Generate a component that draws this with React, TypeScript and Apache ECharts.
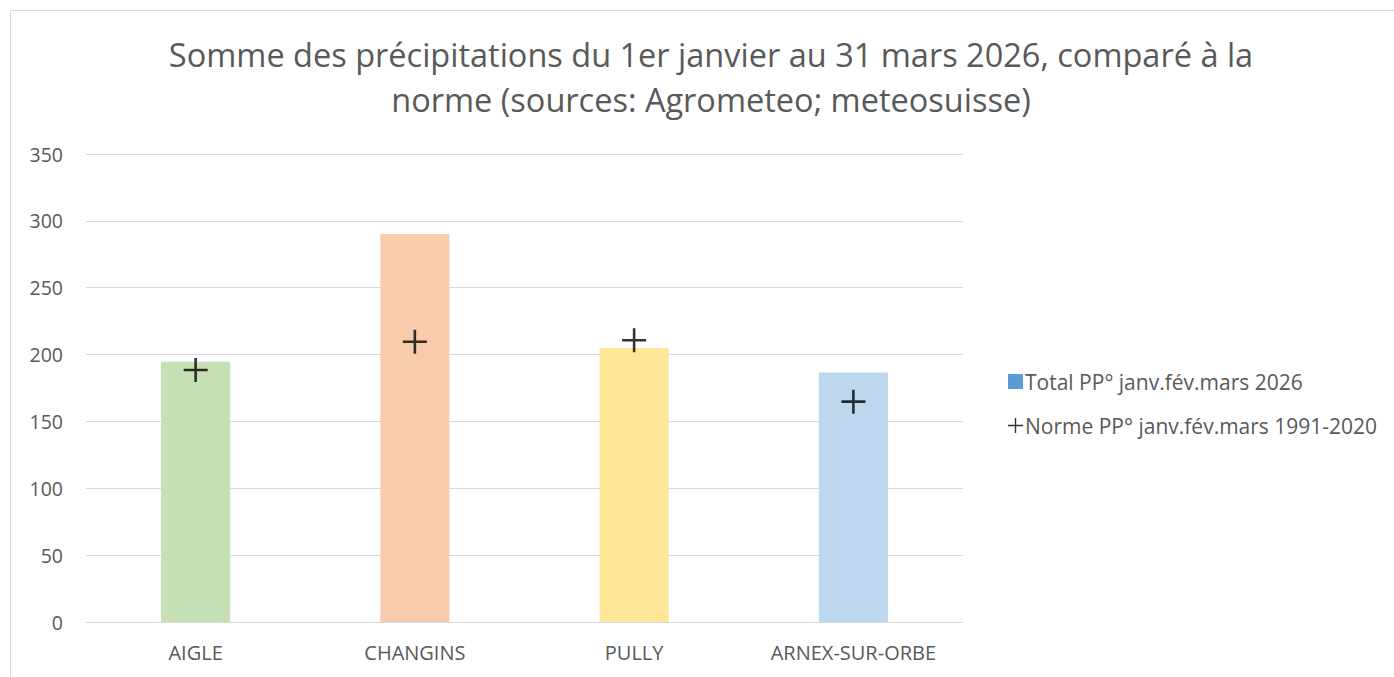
import React, { useEffect, useRef } from "react";
import * as echarts from "echarts";

const categories = ["AIGLE", "CHANGINS", "PULLY", "ARNEX-SUR-ORBE"];
const totals2026 = [194.7, 290.2, 204.9, 186.5];
const normes = [188.5, 209.6, 210.7, 164.8];
const barColors = ["#C5E0B4", "#F8CBAD", "#FFE699", "#BDD7EE"];
const yTicks = { min: 0, max: 350, interval: 50 };
const titleText =
  "Somme des précipitations du 1er janvier au 31 mars 2026, comparé à la\nnorme (sources: Agrometeo; meteosuisse)";
const seriesNames = ["Total PP° janv.fév.mars 2026", "Norme PP° janv.fév.mars 1991-2020"];

const plusPath = "path://M10.7,0 H13.3 V10.7 H24 V13.3 H13.3 V24 H10.7 V13.3 H0 V10.7 H10.7 Z";
const legendPlusPath = "path://M6.8,0 H8.2 V6.8 H15 V8.2 H8.2 V15 H6.8 V8.2 H0 V6.8 H6.8 Z";
const font = "'Open Sans', sans-serif";

export default function App() {
  const ref = useRef<HTMLDivElement>(null);
  useEffect(() => {
    if (!ref.current) return;
    const chart = echarts.init(ref.current, undefined, { renderer: "svg" });
    chart.setOption({
      animation: false,
      backgroundColor: "#fff",
      textStyle: { fontFamily: font },
      graphic: [
        {
          type: "rect",
          shape: { x: 10.5, y: 10.5, width: 1500, height: 800 },
          style: { fill: "none", stroke: "#d9d9d9", lineWidth: 1 },
          silent: true,
        },
      ],
      title: {
        text: titleText,
        left: 706,
        textAlign: "center",
        top: 27,
        textStyle: {
          fontFamily: font,
          fontSize: 32.5,
          fontWeight: "normal",
          color: "#595959",
          lineHeight: 45,
        },
      },
      legend: {
        orient: "vertical",
        left: 1003,
        top: 366,
        itemGap: 23,
        itemWidth: 15,
        itemHeight: 15,
        textStyle: { fontFamily: font, fontSize: 21, color: "#595959", padding: [0, 0, 0, -3] },
        data: [
          { name: seriesNames[0], icon: "rect", itemStyle: { color: "#5B9BD5" } },
          { name: seriesNames[1], icon: legendPlusPath, itemStyle: { color: "#000" } },
        ],
      },
      grid: { left: 86, right: 431, top: 154, bottom: 55 },
      xAxis: {
        type: "category",
        data: categories,
        axisLine: { lineStyle: { color: "#d9d9d9", width: 1 } },
        axisTick: { show: false },
        axisLabel: { fontFamily: font, fontSize: 20, color: "#595959", margin: 20, interval: 0 },
      },
      yAxis: {
        type: "value",
        min: yTicks.min,
        max: yTicks.max,
        interval: yTicks.interval,
        axisLine: { show: false },
        axisTick: { show: false },
        splitLine: { lineStyle: { color: "#d9d9d9", width: 1 } },
        axisLabel: { fontFamily: font, fontSize: 19.5, color: "#595959", margin: 23 },
      },
      series: [
        {
          name: seriesNames[0],
          type: "bar",
          barWidth: "31.5%",
          itemStyle: { color: "#5B9BD5" },
          data: totals2026.map((v, i) => ({ value: v, itemStyle: { color: barColors[i] } })),
        },
        {
          name: seriesNames[1],
          type: "scatter",
          symbol: plusPath,
          symbolSize: 24,
          itemStyle: { color: "#000" },
          data: normes,
          z: 5,
        },
      ],
    });
    return () => chart.dispose();
  }, []);
  return (
    <div
      ref={ref}
      style={{ position: "fixed", left: 0, top: 0, width: 1394, height: 677 }}
    />
  );
}
